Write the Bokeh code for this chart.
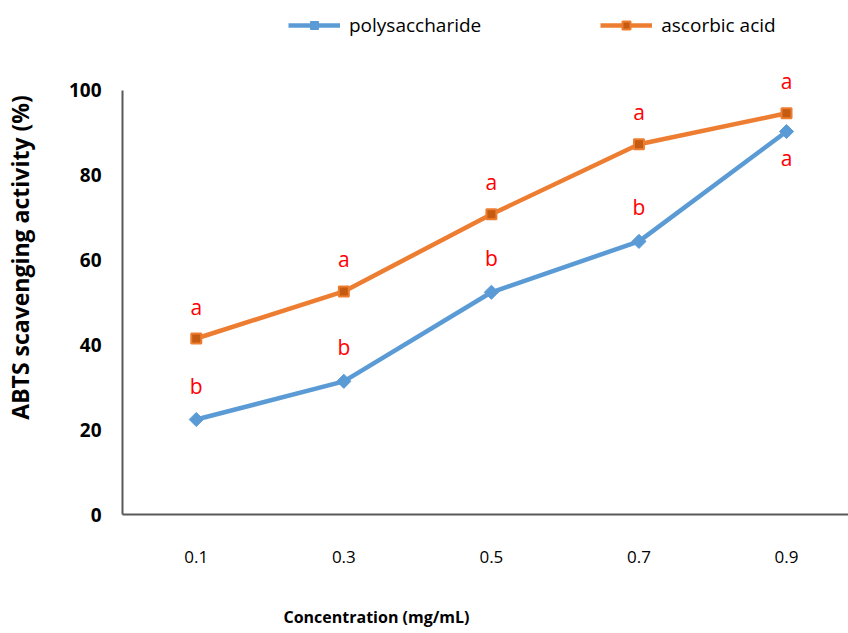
import numpy as np
from bokeh.plotting import figure
from bokeh.models import (Range1d, FixedTicker, Legend, LegendItem, Label,
                          ColumnDataSource)
from bokeh.core.properties import value
from bokeh.embed import file_html
from bokeh.resources import INLINE

# ---- data ----
concentrations = ["0.1", "0.3", "0.5", "0.7", "0.9"]
polysaccharide = [22.4, 31.4, 52.4, 64.4, 90.3]
ascorbic_acid = [41.5, 52.6, 70.8, 87.3, 94.6]
poly_letters = ["b", "b", "b", "b", "a"]
asc_letters = ["a", "a", "a", "a", "a"]
poly_letter_side = ["above", "above", "above", "above", "below"]
asc_letter_side = ["above", "above", "above", "above", "above"]
y_ticks = [0, 20, 40, 60, 80, 100]

FONT = "Open Sans"
BLUE = "#5B9BD5"
ORANGE = "#ED7D31"
ORANGE_DARK = "#C55A11"
AXIS = "#595959"

xpos = [i + 0.5 for i in range(len(concentrations))]

# frame reaches the top of the canvas (room for the legend); the y axis is
# bounded to 0..100
p = figure(width=848, height=633, output_backend="svg", toolbar_location=None,
           x_range=Range1d(0, 4.92), y_range=Range1d(0, 121.2),
           min_border_left=121, min_border_right=0, min_border_top=0,
           min_border_bottom=119)
p.outline_line_color = None
p.xgrid.visible = False
p.ygrid.visible = False
p.background_fill_color = "white"
p.border_fill_color = "white"

# y axis
yax = p.yaxis[0]
yax.bounds = (y_ticks[0], y_ticks[-1])
yax.ticker = FixedTicker(ticks=y_ticks)
yax.major_tick_line_color = None
yax.minor_tick_line_color = None
yax.axis_line_color = AXIS
yax.axis_line_width = 2
yax.major_label_text_font = FONT
yax.major_label_text_font_style = "bold"
yax.major_label_text_font_size = "19px"
yax.major_label_text_color = "black"
yax.major_label_standoff = 15
yax.axis_label = "ABTS scavenging activity (%)"
yax.axis_label_text_font = FONT
yax.axis_label_text_font_style = "bold"
yax.axis_label_text_font_size = "23px"
yax.axis_label_text_color = "black"
yax.axis_label_standoff = 30

# x axis
xax = p.xaxis[0]
xax.ticker = FixedTicker(ticks=xpos)
xax.major_label_overrides = {x: c for x, c in zip(xpos, concentrations)}
xax.major_tick_line_color = None
xax.minor_tick_line_color = None
xax.axis_line_color = AXIS
xax.axis_line_width = 2
xax.major_label_text_font = FONT
xax.major_label_text_font_size = "17px"
xax.major_label_text_color = "black"
xax.major_label_standoff = 30

# series
l1 = p.line(xpos, polysaccharide, line_color=BLUE, line_width=4.5)
m1 = p.scatter(xpos, polysaccharide, marker="square", angle=np.pi / 4, size=10,
               fill_color=BLUE, line_color=BLUE)
l2 = p.line(xpos, ascorbic_acid, line_color=ORANGE, line_width=4.5)
m2 = p.scatter(xpos, ascorbic_acid, marker="square", size=10,
               fill_color=ORANGE_DARK, line_color=ORANGE, line_width=2)

# significance letters
def letters(vals, labs, sides, above_off):
    src = ColumnDataSource(dict(
        x=xpos, y=vals, t=labs,
        off=[above_off if s == "above" else 26 for s in sides]))
    p.text(x="x", y="y", text="t", y_offset="off", source=src,
           text_color="#FF0000", text_font=value(FONT), text_font_size="21px",
           text_align="center", text_baseline="middle")

letters(polysaccharide, poly_letters, poly_letter_side, -34)
letters(ascorbic_acid, asc_letters, asc_letter_side, -32)

# legend
legend = Legend(items=[LegendItem(label="polysaccharide", renderers=[l1, m1]),
                       LegendItem(label="ascorbic acid", renderers=[l2, m2])],
                orientation="horizontal", location=(166, 476),
                glyph_width=52, glyph_height=20, label_standoff=9, spacing=119,
                padding=0, margin=0, border_line_color=None,
                background_fill_alpha=0,
                label_text_font=FONT, label_text_font_size="19px",
                label_text_color="black")
p.add_layout(legend)

# x axis title
p.add_layout(Label(x=254, y=-29, x_units="screen", y_units="screen",
                   text="Concentration (mg/mL)",
                   text_align="center", text_baseline="middle",
                   text_font=FONT, text_font_style="bold",
                   text_font_size="16px", text_color="black"),
             "below")

open("out.html", "w").write(file_html(p, INLINE))
